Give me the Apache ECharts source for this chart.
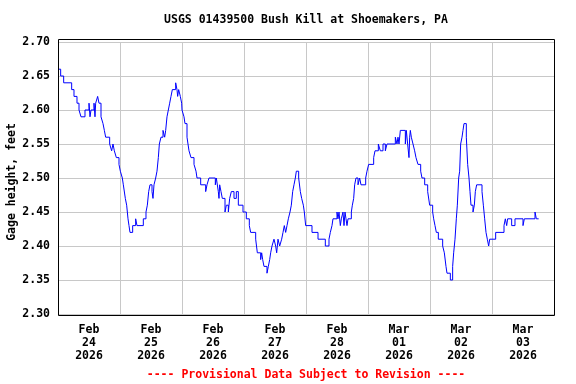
<!DOCTYPE html>
<html>
<head>
<meta charset="utf-8">
<script src="https://cdn.jsdelivr.net/npm/echarts@6/dist/echarts.min.js"></script>
<style>
html,body{margin:0;padding:0;background:#fff;}
#chart{width:576px;height:384px;}
</style>
</head>
<body>
<div id="chart"></div>
<script>
// Hours since 2026-02-24 00:00 (local) at which the gage height changes
const hours = [
  0, 1.03, 2.19, 5.29, 6.19, 7.35, 8.13, 8.9, 10.45, 12.0, 12.39, 12.77, 13.94, 14.32, 14.58, 15.35, 15.87, 16.65, 17.42, 17.94, 18.45, 20.0, 20.77, 21.29, 21.81, 22.58, 23.61,
  24.13, 24.9, 25.29, 26.06, 26.58, 27.1, 27.48, 27.87, 28.9, 30.06, 30.58, 33.03, 34.06, 34.58, 35.1, 35.61, 36.39, 36.77, 37.16, 37.81, 38.32, 38.84, 39.23, 39.87, 40.65, 41.29, 41.68, 42.19, 42.71, 43.23, 43.74, 44.26, 45.55, 46.06, 46.32, 46.71, 47.35, 47.87,
  48.0, 48.77, 49.16, 49.94, 50.32, 50.71, 51.48, 52.65, 53.42, 53.81, 55.23, 57.16, 57.68, 58.45, 60.9, 61.29, 62.06, 62.32, 62.58, 63.1, 63.61, 64.65, 65.16, 65.94, 66.19, 66.45, 67.1, 68.13, 69.03, 69.81, 71.61,
  72.9, 74.06, 74.58, 76.52, 77.16, 78.45, 78.84, 79.23, 79.74, 80.9, 81.42, 81.94, 82.32, 82.84, 83.61, 84.26, 84.65, 85.16, 85.81, 86.58, 87.1, 87.61, 88.13, 88.65, 89.16, 89.81, 90.32, 90.84, 91.35, 91.87, 92.26, 93.16, 93.81, 94.32, 94.97, 95.35, 95.87,
  96.0, 98.32, 100.65, 103.48, 104.9, 105.42, 106.06, 106.45, 108.0, 108.39, 108.77, 109.29, 109.68, 110.32, 110.71, 111.1, 111.48, 111.87, 112.26, 113.55, 113.94, 114.45, 114.84, 115.35, 116.13, 116.77, 117.29, 119.1,
  119.61, 120.26, 122.19, 122.71, 124.0, 124.77, 125.81, 126.71, 127.35, 130.58, 131.23, 131.61, 132.0, 132.52, 134.45, 134.84, 135.35, 135.87, 136.13, 136.39, 136.77, 137.42, 138.06, 138.58, 139.35, 140.39, 140.9, 141.94, 143.1, 143.87,
  144.0, 145.03, 145.42, 145.94, 146.45, 147.23, 148.9, 149.55, 150.19, 150.58, 151.87, 152.77, 153.16, 153.68, 154.19, 154.58, 155.1, 155.48, 155.87, 156.39, 156.77, 157.16, 158.06, 158.58, 159.1, 159.48, 159.87, 160.65, 161.16, 161.55, 162.06, 164.13, 164.65, 165.16, 165.68,
  166.19, 166.71, 167.1, 169.42, 172.65, 173.16, 173.68, 174.06, 175.61, 176.9, 180.0, 180.52, 184.65, 185.16, 186.06
];
// Gage height, feet
const gage = [
  2.66, 2.65, 2.64, 2.63, 2.62, 2.61, 2.60, 2.59, 2.60, 2.61, 2.59, 2.60, 2.61, 2.59, 2.61, 2.62, 2.61, 2.59, 2.58, 2.57, 2.56, 2.55, 2.54, 2.55, 2.54, 2.53, 2.52,
  2.51, 2.50, 2.49, 2.47, 2.46, 2.44, 2.43, 2.42, 2.43, 2.44, 2.43, 2.44, 2.45, 2.46, 2.48, 2.49, 2.48, 2.47, 2.49, 2.50, 2.51, 2.53, 2.55, 2.56, 2.57, 2.56, 2.57, 2.59, 2.60, 2.61, 2.62, 2.63, 2.64, 2.63, 2.62, 2.63, 2.62, 2.61,
  2.60, 2.59, 2.58, 2.56, 2.55, 2.54, 2.53, 2.52, 2.51, 2.50, 2.49, 2.48, 2.49, 2.50, 2.49, 2.50, 2.48, 2.47, 2.49, 2.48, 2.47, 2.45, 2.46, 2.45, 2.46, 2.47, 2.48, 2.47, 2.48, 2.46, 2.45,
  2.44, 2.43, 2.42, 2.41, 2.39, 2.38, 2.39, 2.38, 2.37, 2.36, 2.37, 2.38, 2.39, 2.40, 2.41, 2.40, 2.39, 2.41, 2.40, 2.41, 2.42, 2.43, 2.42, 2.43, 2.44, 2.45, 2.46, 2.48, 2.49, 2.50, 2.51, 2.50, 2.48, 2.47, 2.46, 2.45, 2.43,
  2.43, 2.42, 2.41, 2.40, 2.41, 2.42, 2.43, 2.44, 2.45, 2.44, 2.45, 2.43, 2.44, 2.45, 2.43, 2.45, 2.44, 2.43, 2.44, 2.45, 2.46, 2.47, 2.49, 2.50, 2.49, 2.50, 2.49, 2.50,
  2.51, 2.52, 2.53, 2.54, 2.55, 2.54, 2.55, 2.54, 2.55, 2.56, 2.55, 2.56, 2.55, 2.57, 2.55, 2.57, 2.55, 2.53, 2.56, 2.57, 2.56, 2.55, 2.54, 2.53, 2.52, 2.51, 2.50, 2.49, 2.48, 2.46,
  2.46, 2.45, 2.44, 2.43, 2.42, 2.41, 2.40, 2.39, 2.37, 2.36, 2.35, 2.37, 2.39, 2.41, 2.44, 2.46, 2.50, 2.51, 2.55, 2.56, 2.57, 2.58, 2.56, 2.52, 2.50, 2.48, 2.46, 2.45, 2.46, 2.48, 2.49, 2.48, 2.46, 2.44, 2.42,
  2.41, 2.40, 2.41, 2.42, 2.43, 2.44, 2.43, 2.44, 2.43, 2.44, 2.43, 2.44, 2.45, 2.44, 2.44
];
// Day labels (one per day, drawn at noon)
const dayLabels = [
  'Feb\n24\n2026', 'Feb\n25\n2026', 'Feb\n26\n2026', 'Feb\n27\n2026',
  'Feb\n28\n2026', 'Mar\n01\n2026', 'Mar\n02\n2026', 'Mar\n03\n2026'
];
const titleText = 'USGS 01439500 Bush Kill at Shoemakers, PA';
const yName = 'Gage height, feet';
const footerText = '---- Provisional Data Subject to Revision ----';

const FONT = '"DejaVu Sans Mono", "Liberation Mono", monospace';
const chart = echarts.init(document.getElementById('chart'), null, {renderer: 'canvas'});
const data = hours.map((h, i) => [h, gage[i]]);

chart.setOption({
  animation: false,
  backgroundColor: '#ffffff',
  grid: {left: 58, top: 42, width: 496, height: 272, containLabel: false},
  xAxis: {
    type: 'value', min: 0, max: 192, interval: 12,
    axisLine: {show: false}, axisTick: {show: false},
    splitLine: {show: true, lineStyle: {color: ['#c8c8c8', 'rgba(0,0,0,0)'], width: 1}},
    axisLabel: {
      margin: 10, lineHeight: 13, color: '#000', fontFamily: FONT, fontWeight: 'bold', fontSize: 11.5,
      formatter: v => (Math.round(v) % 24 === 12) ? dayLabels[Math.floor(v / 24)] : ''
    }
  },
  yAxis: {
    type: 'value', min: 2.30, max: 2.70, interval: 0.05,
    axisLine: {show: false}, axisTick: {show: false},
    splitLine: {show: true, lineStyle: {color: '#c8c8c8', width: 1}},
    axisLabel: {margin: 8, color: '#000', fontFamily: FONT, fontWeight: 'bold', fontSize: 11.5,
      formatter: v => v.toFixed(2)}
  },
  series: [{
    type: 'line', data: data, step: 'end', showSymbol: false,
    lineStyle: {color: '#0000ff', width: 1}, z: 5
  }],
  graphic: [
    {type: 'rect', z: 100, shape: {x: 58.5, y: 39.5, width: 496, height: 276},
     style: {fill: 'none', stroke: '#000', lineWidth: 1}},
    {type: 'text', z: 100, x: 306, y: 20,
     style: {text: titleText, fill: '#000', font: 'bold 11.5px ' + FONT, textAlign: 'center', textVerticalAlign: 'middle'}},
    {type: 'text', z: 100, x: 12, y: 182, rotation: Math.PI / 2,
     style: {text: yName, fill: '#000', font: 'bold 11.5px ' + FONT, textAlign: 'center', textVerticalAlign: 'middle'}},
    {type: 'text', z: 100, x: 306, y: 375,
     style: {text: footerText, fill: '#ff0000', font: 'bold 11.5px ' + FONT, textAlign: 'center', textVerticalAlign: 'middle'}}
  ]
});
</script>
</body>
</html>
